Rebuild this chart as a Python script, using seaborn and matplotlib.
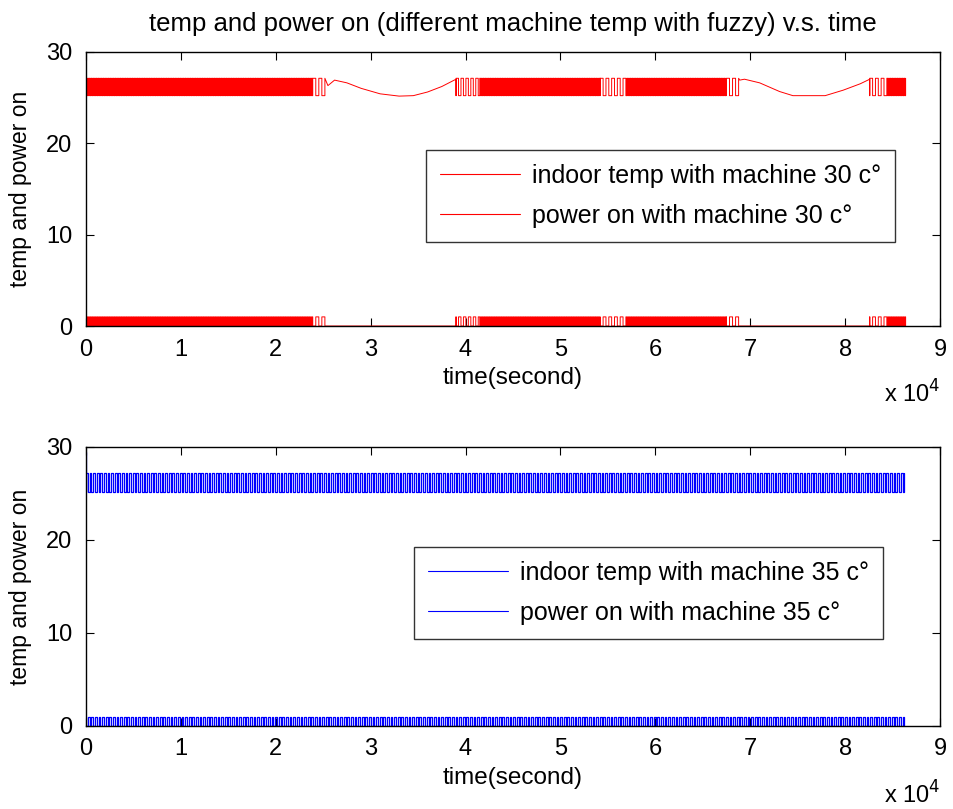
import numpy as np
import seaborn as sns
import matplotlib.pyplot as plt

# machine 30: periods where the controller keeps switching on/off
# (start s, end s, time between switches s)
switch_start_30 = [0, 23900, 39000, 41500, 54200, 57000, 67500, 82600, 84400]
switch_end_30 = [23900, 25500, 41500, 54200, 57000, 67500, 68900, 84400, 86400]
switch_step_30 = [90, 320, 260, 90, 300, 90, 320, 300, 90]
temp_low_30 = 25.2
temp_high_30 = 27.1

# machine 30: slow drift while the machine stays off
drift1_t = [25500, 26200, 27500, 29000, 31000, 33000, 34500, 36000, 37500, 39000]
drift1_temp = [26.3, 26.9, 26.6, 26.0, 25.4, 25.15, 25.2, 25.6, 26.2, 27.0]
drift2_t = [68900, 69400, 71000, 73100, 74500, 77900, 79800, 81600, 82600]
drift2_temp = [26.9, 27.0, 26.6, 25.65, 25.2, 25.2, 25.8, 26.5, 27.0]

# machine 35: switching all day long
switch_start_35 = [0]
switch_end_35 = [86400]
switch_step_35 = [190]
temp_low_35 = 25.2
temp_high_35 = 27.2

start_temp = 29.5
x_ticks = [0, 1, 2, 3, 4, 5, 6, 7, 8, 9]
y_ticks = [0, 10, 20, 30]


def build(starts, ends, steps, low, high, drifts):
    t_all, temp_all, pw_all = [np.array([0.0])], [np.array([start_temp])], [np.array([1.0])]
    pieces = []
    for s, e, st in zip(starts, ends, steps):
        # each switch is an instant jump: two samples at the same time
        t = np.repeat(np.arange(s, e, st, dtype=float), 2)
        pieces.append((s, t, np.resize([low, high, high, low], len(t)),
                       np.resize([1.0, 0.0, 0.0, 1.0], len(t))))
    for dt, dv in drifts:
        dt = np.array(dt, dtype=float)
        pieces.append((dt[0], dt, np.array(dv), np.zeros(len(dt))))
    for _, t, v, p in sorted(pieces, key=lambda x: x[0]):
        t_all.append(t)
        temp_all.append(v)
        pw_all.append(p)
    return np.concatenate(t_all), np.concatenate(temp_all), np.concatenate(pw_all)


t30, temp30, pw30 = build(switch_start_30, switch_end_30, switch_step_30,
                          temp_low_30, temp_high_30,
                          [(drift1_t, drift1_temp), (drift2_t, drift2_temp)])
t35, temp35, pw35 = build(switch_start_35, switch_end_35, switch_step_35,
                          temp_low_35, temp_high_35, [])

sns.set_style("white")
plt.rcParams['font.family'] = ['Liberation Sans', 'DejaVu Sans']
plt.rcParams.update({'text.color': 'black', 'axes.labelcolor': 'black',
                     'xtick.color': 'black', 'ytick.color': 'black'})

fig = plt.figure(figsize=(9.54, 8.09), dpi=100)
ax1 = fig.add_axes([0.0901, 0.597, 0.8952, 0.339])
ax2 = fig.add_axes([0.0901, 0.1026, 0.8952, 0.345])

panels = [
    (ax1, t30, temp30, pw30, 'red', 0.7, '30', (0.398, 0.642)),
    (ax2, t35, temp35, pw35, 'blue', 0.9, '35', (0.384, 0.642)),
]
for ax, t, temp, pw, col, lw, m, anchor in panels:
    sns.lineplot(x=t, y=temp, ax=ax, color=col, lw=lw, estimator=None, sort=False,
                 label=f'indoor temp with machine {m} c°')
    sns.lineplot(x=t, y=pw, ax=ax, color=col, lw=lw, estimator=None, sort=False,
                 label=f'power on with machine {m} c°')
    ax.set_xlim(0, 90000)
    ax.set_ylim(0, 30)
    ax.set_xticks([v * 10000 for v in x_ticks])
    ax.set_xticklabels([str(v) for v in x_ticks])
    ax.set_yticks(y_ticks)
    ax.tick_params(axis='both', direction='in', length=6, width=0.8, labelsize=17,
                   top=True, right=True, bottom=True, left=True)
    ax.tick_params(axis='x', pad=9)
    ax.tick_params(axis='y', pad=10)
    for sp in ax.spines.values():
        sp.set_color('black')
        sp.set_linewidth(1.0)
    ax.set_xlabel('time(second)', fontsize=17.5, labelpad=5)
    ax.set_ylabel('temp and power on', fontsize=16.5, labelpad=10)
    ax.text(1.0, -0.2, r'x 10$^{4}$', transform=ax.transAxes, ha='right', va='top',
            fontsize=17)
    leg = ax.legend(loc='upper left', bbox_to_anchor=anchor, fontsize=18,
                    frameon=True, fancybox=False, edgecolor='black',
                    handlelength=3.2, handletextpad=0.5, borderpad=0.55,
                    labelspacing=0.65, borderaxespad=0)
    leg.get_frame().set_linewidth(1.0)
    for h in leg.get_lines():
        h.set_linewidth(0.8)

ax1.set_title('temp and power on (different machine temp with fuzzy) v.s. time',
              fontsize=18.5, pad=15)

fig.savefig('out.png', dpi=100, facecolor='white')
